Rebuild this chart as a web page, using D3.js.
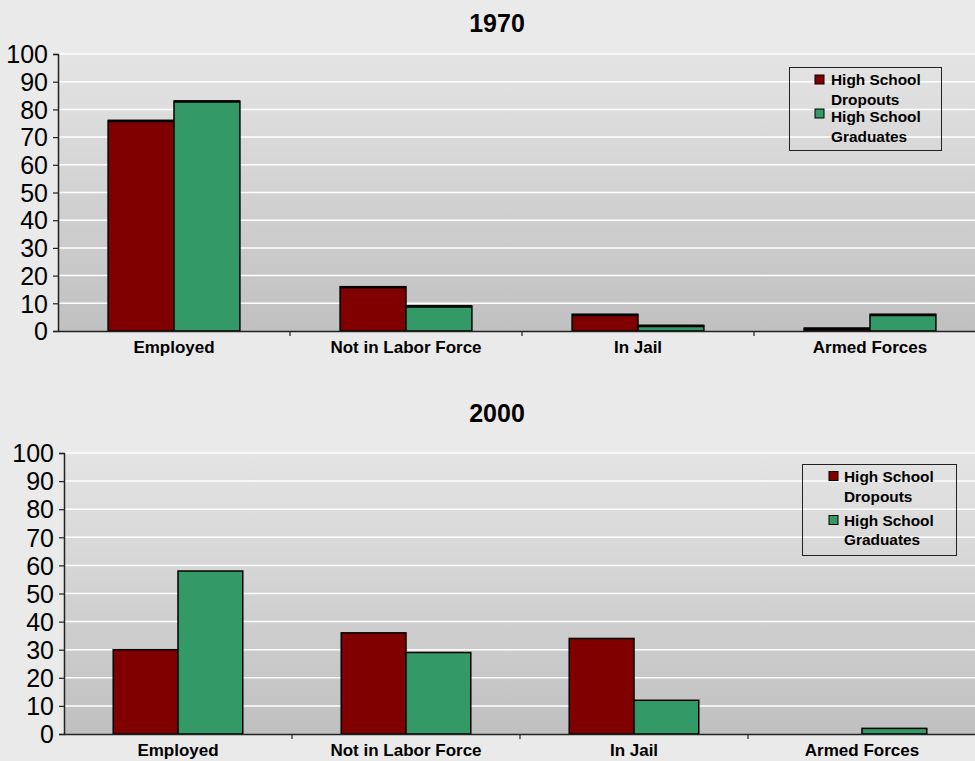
<!DOCTYPE html>
<html><head><meta charset="utf-8">
<script src="https://cdn.jsdelivr.net/npm/d3@7"></script>
<style>html,body{margin:0;padding:0;background:#eaeaea;overflow:hidden}</style>
</head><body>
<svg id="c" width="975" height="761"></svg>
<script>
const categories = ["Employed", "Not in Labor Force", "In Jail", "Armed Forces"];
const seriesNames = ["High School Dropouts", "High School Graduates"];
const legendLines = [["High School", "Dropouts"], ["High School", "Graduates"]];
const dropouts1970 = [76, 16, 6, 1];
const graduates1970 = [83, 9, 2, 6];
const dropouts2000 = [30, 36, 34, 0];
const graduates2000 = [58, 29, 12, 2];
const yTicks = [0, 10, 20, 30, 40, 50, 60, 70, 80, 90, 100];
const colors = ["#800000", "#339966"];

const svg = d3.select("#c");
const defs = svg.append("defs");
const grad = defs.append("linearGradient").attr("id", "pg").attr("x1", 0).attr("x2", 0).attr("y1", 0).attr("y2", 1);
grad.append("stop").attr("offset", "0%").attr("stop-color", "#e4e4e4");
grad.append("stop").attr("offset", "100%").attr("stop-color", "#c0c0c0");

function panel(cfg) {
  const g = svg.append("g");
  const x = d3.scaleBand().domain(categories).range([cfg.left, cfg.right]).paddingInner(0).paddingOuter(0);
  const xs = d3.scaleBand().domain(seriesNames).range([0, x.bandwidth()]).paddingInner(0).paddingOuter(0.76);
  const y = d3.scaleLinear().domain([0, 100]).range([cfg.bottom, cfg.top]);

  g.append("rect").attr("x", cfg.left).attr("y", cfg.top).attr("width", cfg.right - cfg.left)
    .attr("height", cfg.bottom - cfg.top).attr("fill", "url(#pg)");
  g.selectAll(".grid").data(yTicks.filter(d => d > 0)).join("line")
    .attr("x1", cfg.left).attr("x2", cfg.right).attr("y1", d => y(d)).attr("y2", d => y(d))
    .attr("stroke", "#ffffff").attr("stroke-width", 1.5);

  g.append("text").attr("x", 497).attr("y", cfg.titleY).attr("text-anchor", "middle")
    .attr("font-family", "Liberation Sans, Arial, sans-serif").attr("font-weight", "bold")
    .attr("font-size", 25).attr("fill", "#000").text(cfg.title);

  const vals = [cfg.d1, cfg.d2];
  seriesNames.forEach((s, si) => {
    g.selectAll(".b" + si).data(categories).join("rect")
      .attr("x", c => x(c) + xs(s)).attr("width", xs.bandwidth())
      .attr("y", (c, i) => y(vals[si][i])).attr("height", (c, i) => cfg.bottom - y(vals[si][i]))
      .attr("fill", colors[si]).attr("stroke", "#000").attr("stroke-width", 1.5);
    if (cfg.thickTop) {
      g.selectAll(".t" + si).data(categories).join("line")
        .attr("x1", c => x(c) + xs(s)).attr("x2", c => x(c) + xs(s) + xs.bandwidth())
        .attr("y1", (c, i) => y(vals[si][i]) + 0.5).attr("y2", (c, i) => y(vals[si][i]) + 0.5)
        .attr("stroke", "#000").attr("stroke-width", 2.5);
    }
  });

  const ya = g.append("g").attr("transform", `translate(${cfg.left},0)`)
    .call(d3.axisLeft(y).tickValues(yTicks).tickSize(5).tickPadding(cfg.tickPad));
  ya.select(".domain").attr("stroke", "#222").attr("stroke-width", 1.5);
  ya.selectAll(".tick line").attr("stroke", "#222").attr("stroke-width", 1.2);
  ya.selectAll(".tick text").attr("font-family", "Liberation Sans, Arial, sans-serif")
    .attr("font-size", 25).attr("fill", "#000").attr("dy", "0.35em");

  const xa = g.append("g").attr("transform", `translate(0,${cfg.bottom})`)
    .call(d3.axisBottom(x).tickSize(0).tickPadding(10));
  xa.select(".domain").attr("stroke", "#222").attr("stroke-width", 1.5);
  xa.selectAll(".tick text").attr("font-family", "Liberation Sans, Arial, sans-serif")
    .attr("font-weight", "bold").attr("font-size", 17).attr("fill", "#000");
  g.selectAll(".bt").data(categories.slice(1)).join("line")
    .attr("x1", c => x(c)).attr("x2", c => x(c)).attr("y1", cfg.bottom).attr("y2", cfg.bottom + 5)
    .attr("stroke", "#222").attr("stroke-width", 1.2);

  const L = cfg.legend;
  g.append("rect").attr("x", L.x).attr("y", L.y).attr("width", L.w).attr("height", L.h)
    .attr("fill", "none").attr("stroke", "#222").attr("stroke-width", 1);
  legendLines.forEach((lines, i) => {
    g.append("rect").attr("x", L.sx).attr("y", L.sy[i]).attr("width", 9).attr("height", 9)
      .attr("fill", colors[i]).attr("stroke", "#000").attr("stroke-width", 1);
    lines.forEach((t, j) => {
      g.append("text").attr("x", L.tx).attr("y", L.ty[i][j])
        .attr("font-family", "Liberation Sans, Arial, sans-serif").attr("font-weight", "bold")
        .attr("font-size", 15.4).attr("fill", "#000").text(t);
    });
  });
}

panel({title: "1970", titleY: 32, left: 58, right: 986, top: 54, bottom: 331, tickPad: 5,
  d1: dropouts1970, d2: graduates1970, thickTop: true,
  legend: {x: 789.5, y: 67.5, w: 152, h: 83, sx: 815, sy: [75, 109], tx: 831, ty: [[85, 105], [122, 142]]}});
panel({title: "2000", titleY: 422, left: 64, right: 976, top: 453, bottom: 734, tickPad: 5,
  d1: dropouts2000, d2: graduates2000, thickTop: false,
  legend: {x: 802.5, y: 464.5, w: 154, h: 91, sx: 829, sy: [471.5, 515.5], tx: 844, ty: [[482, 502], [526, 545]]}});
</script>
</body></html>
